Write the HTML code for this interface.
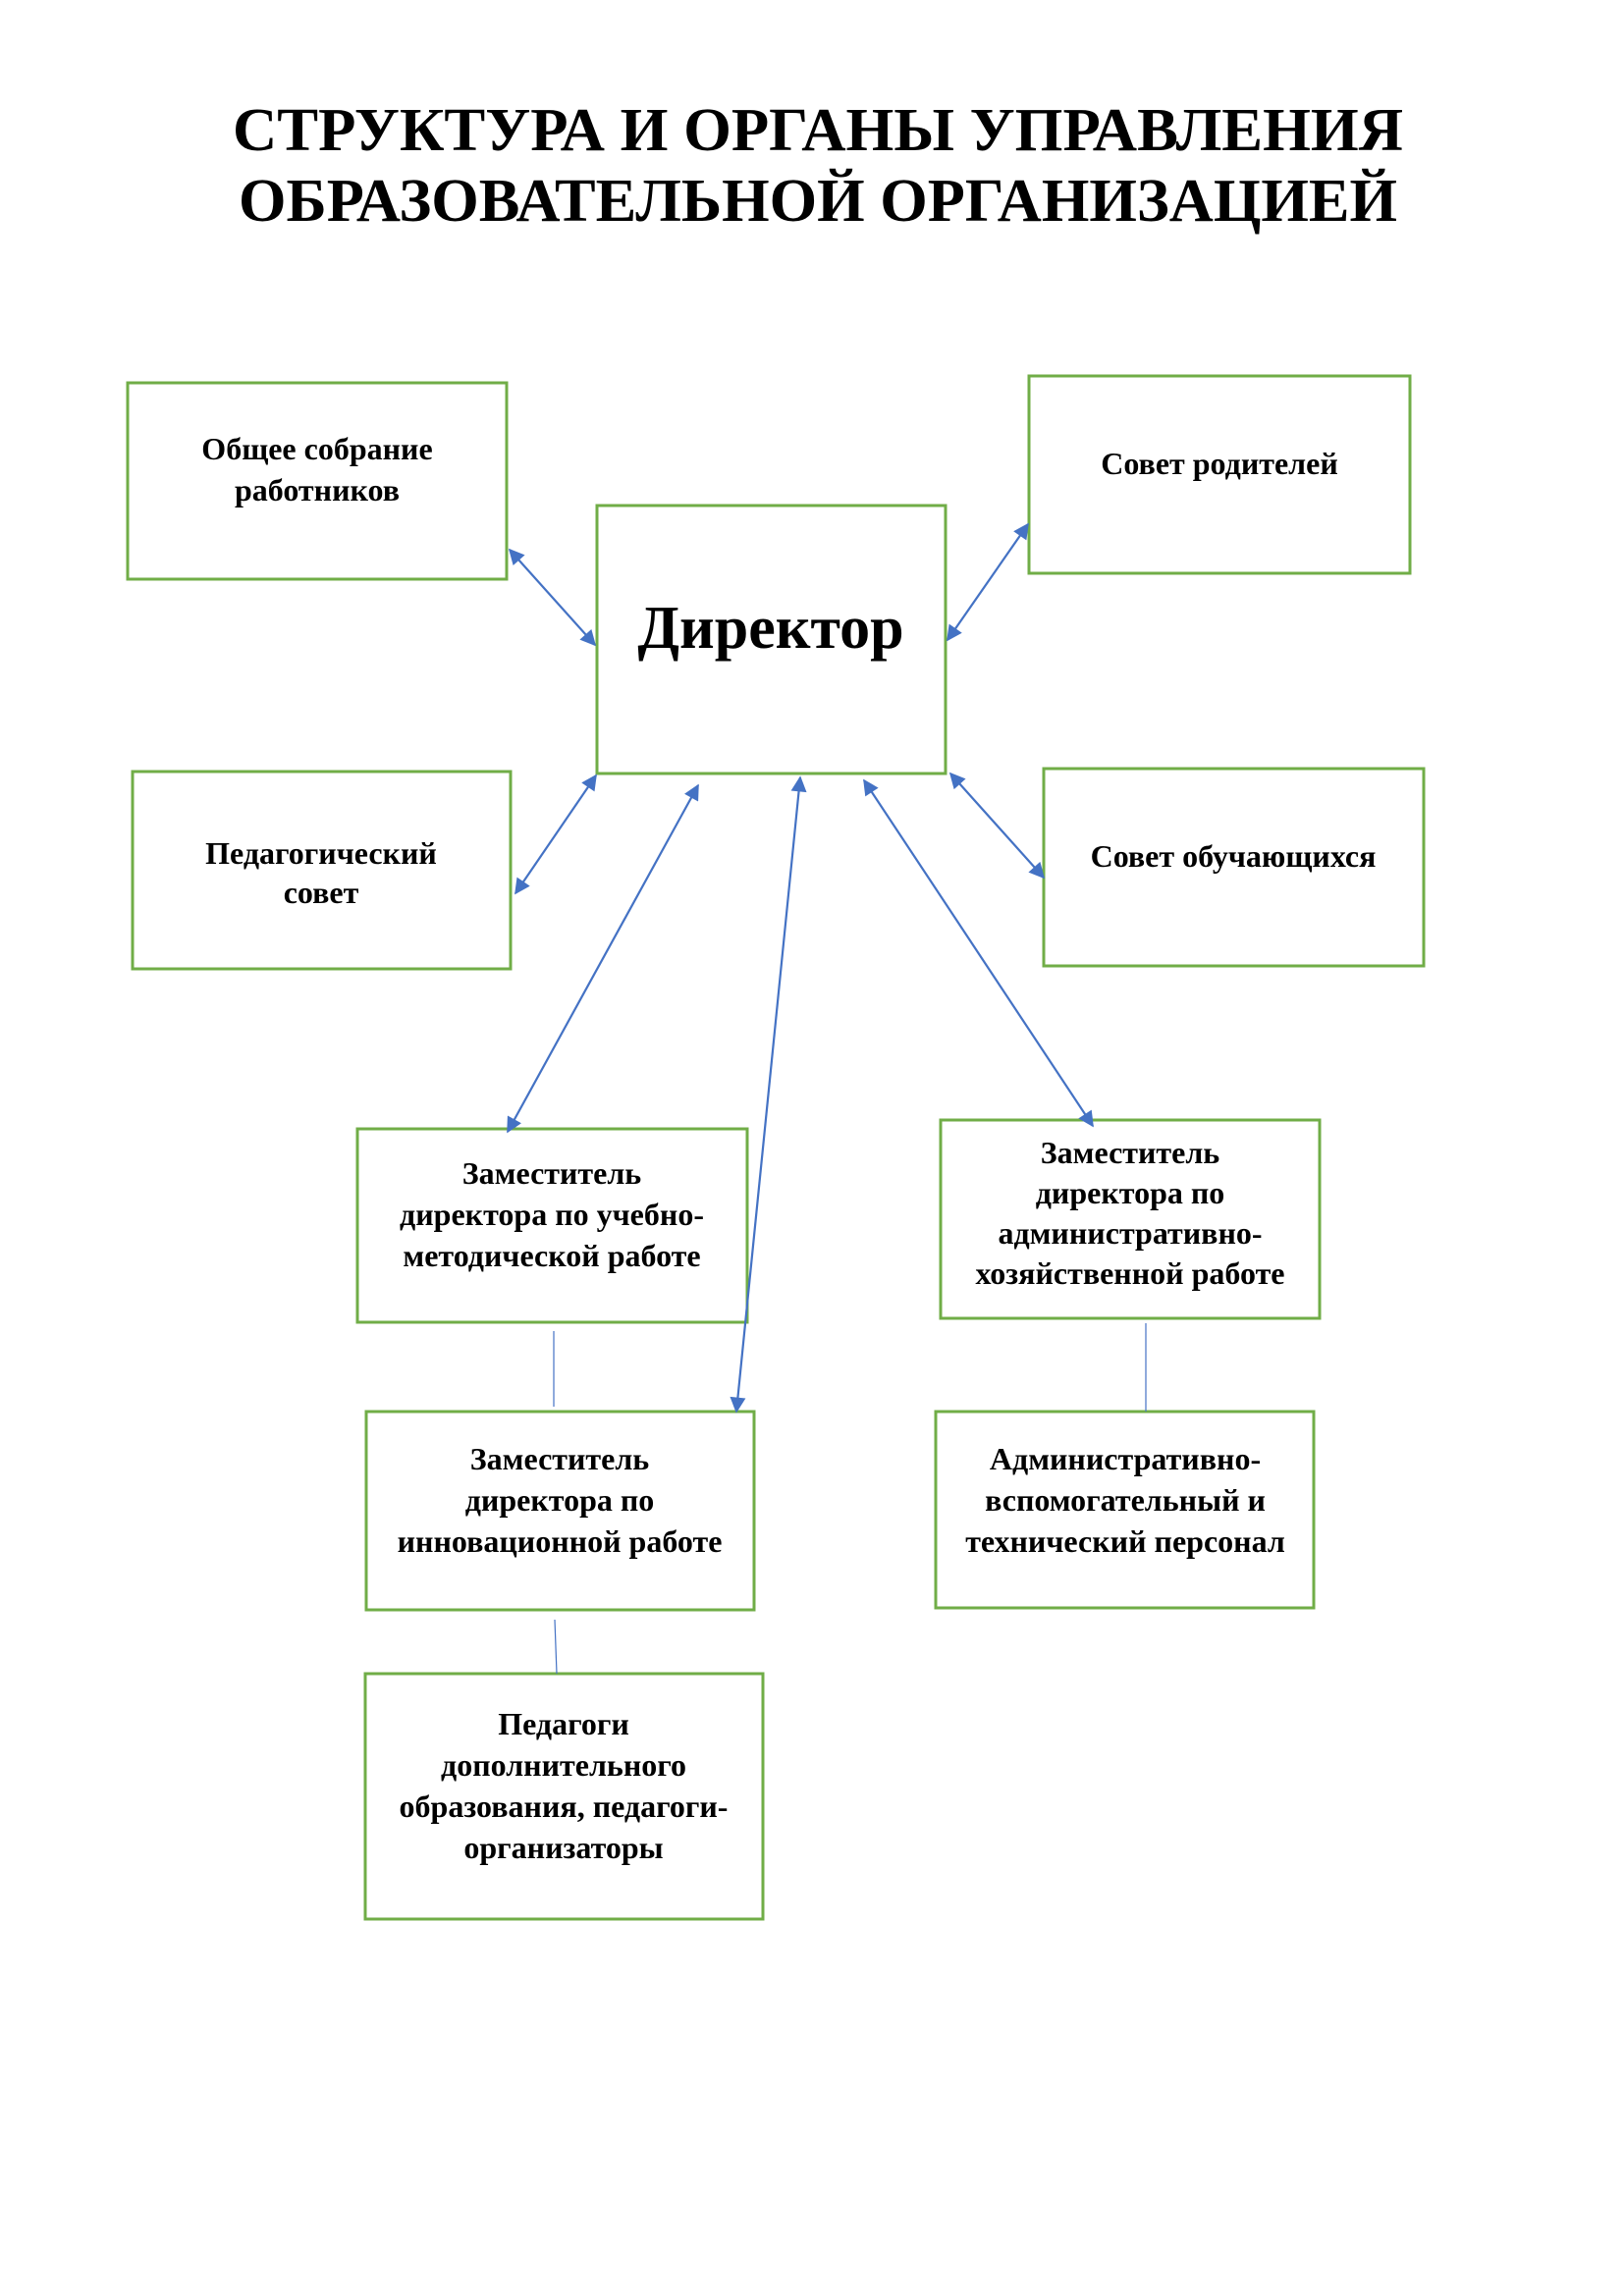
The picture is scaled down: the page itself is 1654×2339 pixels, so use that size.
<!DOCTYPE html>
<html><head><meta charset="utf-8"><style>
html,body{margin:0;padding:0;background:#fff}
svg{display:block}
text{font-family:"Liberation Serif","Noto Serif CJK SC",serif;font-weight:bold;fill:#000}
.b{fill:#fff;stroke:#70ad47;stroke-width:3}
.t{font-size:32px;text-anchor:middle}
.a{stroke:#4472c4;stroke-width:2.2;fill:none}
.l{stroke:#4472c4;stroke-width:1.2}
</style></head><body>
<svg width="1654" height="2339" viewBox="0 0 1654 2339">
<defs>
<marker id="m2" viewBox="0 0 10 10" refX="9" refY="5" markerWidth="20" markerHeight="16" orient="auto-start-reverse" markerUnits="userSpaceOnUse"><path d="M0,0L10,5L0,10z" fill="#4472c4"/></marker></defs>
<style>.a{marker-start:url(#m2);marker-end:url(#m2)}</style>
<text x="833" y="153" font-size="62" text-anchor="middle" textLength="1192" lengthAdjust="spacingAndGlyphs">СТРУКТУРА И ОРГАНЫ УПРАВЛЕНИЯ</text>
<text x="833" y="225" font-size="62" text-anchor="middle" textLength="1180" lengthAdjust="spacingAndGlyphs">ОБРАЗОВАТЕЛЬНОЙ ОРГАНИЗАЦИЕЙ</text>

<rect class="b" x="130" y="390" width="386" height="200"/>
<text class="t" x="323" y="468">Общее собрание</text><text class="t" x="323" y="510">работников</text>
<rect class="b" x="608" y="515" width="355" height="273"/>
<text x="785" y="660" font-size="62" text-anchor="middle">Директор</text>
<rect class="b" x="1048" y="383" width="388" height="201"/>
<text class="t" x="1242" y="483">Совет родителей</text>
<rect class="b" x="135" y="786" width="385" height="201"/>
<text class="t" x="327" y="880">Педагогический</text><text class="t" x="327" y="920">совет</text>
<rect class="b" x="1063" y="783" width="387" height="201"/>
<text class="t" x="1256" y="883">Совет обучающихся</text>
<rect class="b" x="364" y="1150" width="397" height="197"/>
<text class="t" x="562" y="1206">Заместитель</text><text class="t" x="562" y="1248">директора по учебно-</text><text class="t" x="562" y="1290">методической работе</text>
<rect class="b" x="958" y="1141" width="386" height="202"/>
<text class="t" x="1151" y="1185">Заместитель</text><text class="t" x="1151" y="1226">директора по</text><text class="t" x="1151" y="1267">административно-</text><text class="t" x="1151" y="1308">хозяйственной работе</text>
<rect class="b" x="373" y="1438" width="395" height="202"/>
<text class="t" x="570" y="1497">Заместитель</text><text class="t" x="570" y="1539">директора по</text><text class="t" x="570" y="1581">инновационной работе</text>
<rect class="b" x="953" y="1438" width="385" height="200"/>
<text class="t" x="1146" y="1497">Административно-</text><text class="t" x="1146" y="1539">вспомогательный и</text><text class="t" x="1146" y="1581">технический персонал</text>
<rect class="b" x="372" y="1705" width="405" height="250"/>
<text class="t" x="574" y="1767">Педагоги</text><text class="t" x="574" y="1809">дополнительного</text><text class="t" x="574" y="1851">образования, педагоги-</text><text class="t" x="574" y="1893">организаторы</text>

<line class="a" x1="519" y1="560" x2="606" y2="657"/>
<line class="a" x1="965" y1="652" x2="1047" y2="534"/>
<line class="a" x1="607" y1="790" x2="525" y2="910"/>
<line class="a" x1="968" y1="788" x2="1063" y2="894"/>
<line class="a" x1="711" y1="800" x2="517" y2="1153"/>
<line class="a" x1="815" y1="792" x2="750" y2="1438"/>
<line class="a" x1="880" y1="795" x2="1113" y2="1147"/>
<line class="l" x1="564" y1="1356" x2="564" y2="1433"/>
<line class="l" x1="565" y1="1650" x2="567" y2="1705"/>
<line class="l" x1="1167" y1="1348" x2="1167" y2="1438"/>
</svg>
</body></html>
